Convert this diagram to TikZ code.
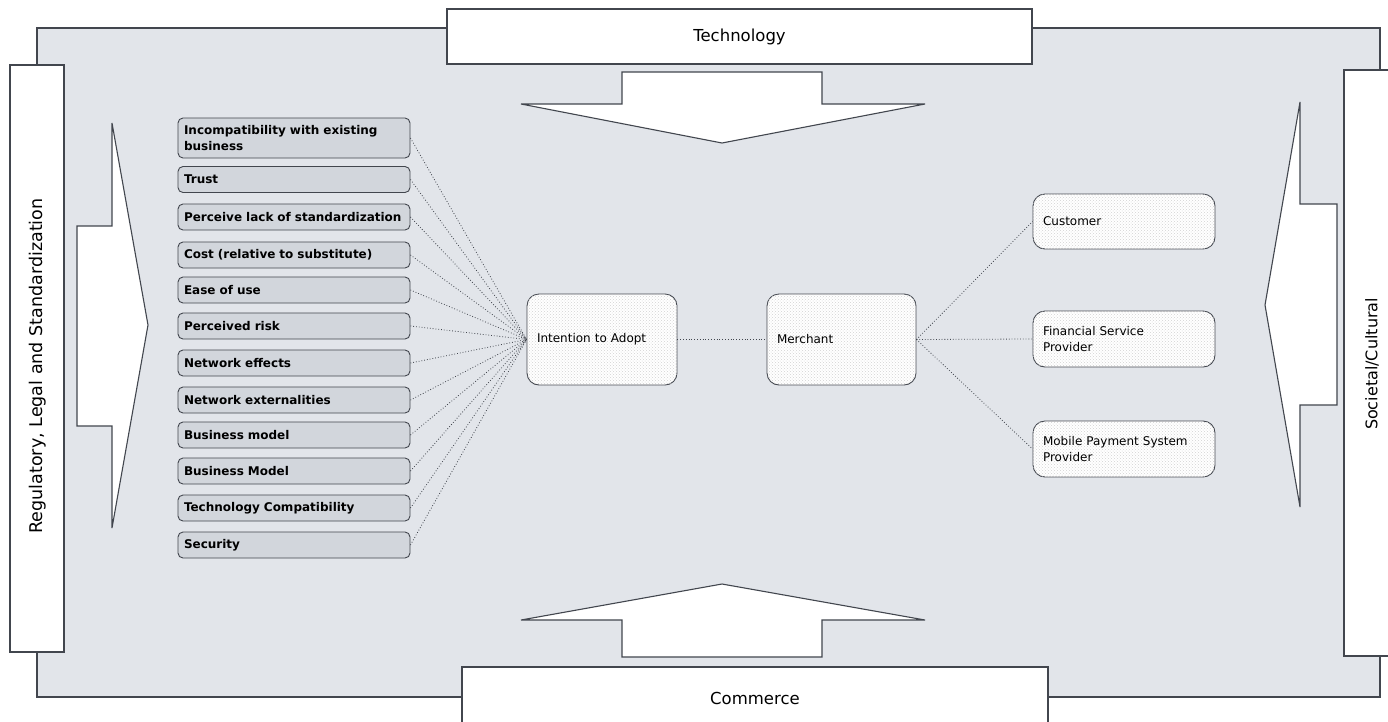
\documentclass[tikz,border=0pt]{standalone}
\usepackage{fontspec}
\setmainfont{DejaVu Sans}
\usetikzlibrary{calc}
\usetikzlibrary{patterns}
\tikzset{>=latex}
\definecolor{mybg}{RGB}{226,229,234}
\definecolor{myfactor}{RGB}{210,214,220}
\definecolor{myline}{RGB}{66,70,78}
\tikzstyle{frame line}=[myline,line width=1.1]
\tikzstyle{force box}=[draw=myline,line width=1.1,fill=white,font=\fontsize{16.5}{19}\selectfont]
\tikzstyle{force arrow}=[draw=myline,line width=1.1,fill=white]
\tikzstyle{factor}=[draw=myline,line width=0.9,fill=myfactor,rounded corners=5,
  text width=220,inner xsep=6,minimum height=26,align=left,
  font=\fontsize{12}{15.5}\selectfont\bfseries]
\tikzstyle{actor}=[draw=myline,line width=0.9,fill=white,rounded corners=12,
  postaction={pattern=crosshatch dots,pattern color=gray!35},
  inner xsep=10,align=left,font=\fontsize{12}{16.5}\selectfont]
\tikzstyle{link}=[myline,dotted,line width=0.8]

\begin{document}
\begin{tikzpicture}[x=1pt,y=-1pt]
  \useasboundingbox (0,0) rectangle (1388,721);

  % FRAME
  \draw[frame line,fill=mybg] (37,28) rectangle (1380,697);

  % FORCES
  \node[force box,minimum width=585,minimum height=55] (tech) at (739.5,36.5) {Technology};
  \node[force box,minimum width=586,minimum height=62] (comm) at (755,698) {Commerce};
  \node[force box,minimum width=54,minimum height=587] (reg) at (37,358.5) {};
  \node[rotate=90,font=\fontsize{17.5}{20}\selectfont] (reglabel) at (38,366)
      {Regulatory, Legal and Standardization};
  \node[force box,minimum width=56,minimum height=586] (soc) at (1372,363) {};
  \node[rotate=90,font=\fontsize{16}{18}\selectfont] (soclabel) at (1372,364)
      {Societal/Cultural};

  % ARROWS
  \draw[force arrow] (622,72) -- (822,72) -- (822,104) -- (925,104) -- (722,143)
      -- (521,104) -- (622,104) -- cycle;
  \draw[force arrow] (622,657) -- (822,657) -- (822,620) -- (925,620) -- (722,584)
      -- (521,620) -- (622,620) -- cycle;
  \draw[force arrow] (77,226) -- (112,226) -- (112,123) -- (148,325) -- (112,528)
      -- (112,426) -- (77,426) -- cycle;
  \draw[force arrow] (1337,204) -- (1300,204) -- (1300,102) -- (1265,305) -- (1300,507)
      -- (1300,405) -- (1337,405) -- cycle;

  % ACTORS
  \node[actor,text width=130,minimum height=91] (intent) at (602,339.5) {Intention to Adopt};
  \node[actor,text width=129,minimum height=91] (merch) at (841.5,339.5) {Merchant};
  \node[actor,text width=162,minimum height=55] (cust) at (1124,221.5) {Customer};
  \node[actor,text width=162,minimum height=56] (fin) at (1124,339) {Financial Service\\Provider};
  \node[actor,text width=162,minimum height=56] (mob) at (1124,449) {Mobile Payment System\\Provider};

  % FACTORS
  \node[factor,minimum height=40] (incomp) at (294,138) {Incompatibility with existing\\business};
  \draw[link] (incomp.east) -- (intent.west);
  \foreach \name/\yc/\txt in {trust/179.5/Trust,
      stand/217/Perceive lack of standardization,
      cost/255/Cost (relative to substitute),
      ease/290/Ease of use,
      risk/326/Perceived risk,
      neteff/363/Network effects,
      netext/400/Network externalities,
      bizm/435/Business model,
      bizM/471/Business Model,
      techc/508/Technology Compatibility,
      secur/545/Security}
  {
    \node[factor] (\name) at (294,\yc) {\txt};
    \draw[link] (\name.east) -- (intent.west);
  }

  % LINKS
  \draw[link] (intent.east) -- (merch.west);
  \draw[link] (merch.east) -- (cust.west);
  \draw[link] (merch.east) -- (fin.west);
  \draw[link] (merch.east) -- (mob.west);
\end{tikzpicture}
\end{document}
